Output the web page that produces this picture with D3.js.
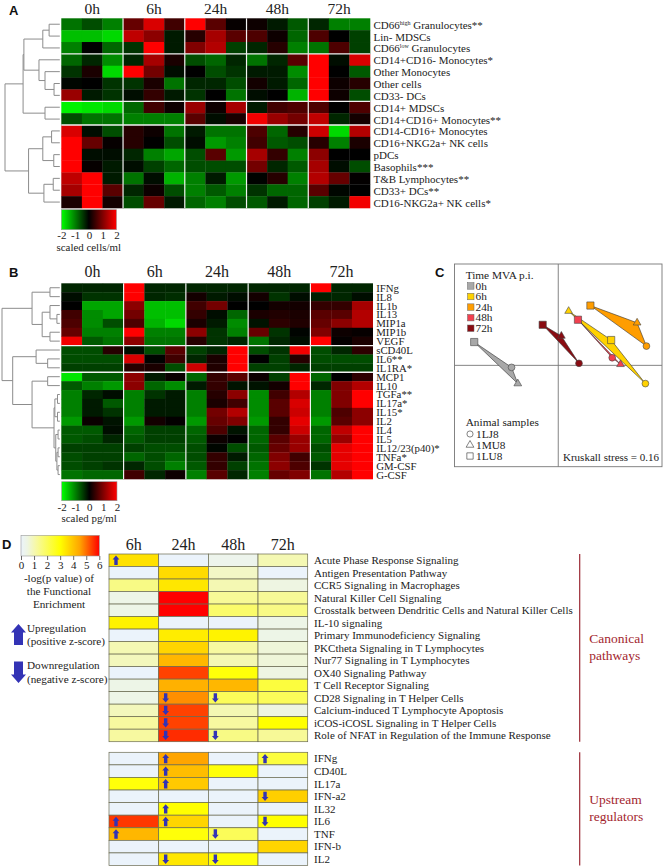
<!DOCTYPE html>
<html>
<head>
<meta charset="utf-8">
<script src="https://d3js.org/d3.v7.min.js"></script>
<style>
  html, body { margin: 0; padding: 0; background: #fff; }
  svg { display: block; }
  text { font-family: "Liberation Serif", serif; fill: #222; }
  .letter { font-family: "Liberation Sans", sans-serif; font-weight: bold; font-size: 13px; fill: #111; }
</style>
</head>
<body>
<div id="chart"></div>
<script>
// time points
var heatTimes = ["0h", "6h", "24h", "48h", "72h"];
var enrichTimes = ["6h", "24h", "48h", "72h"];

// panel A - scaled cells/ml, 3 animals per time point
var cellLabels = [
  ["CD66", "high", " Granulocytes**"], ["Lin- MDSCs"], ["CD66", "low", " Granulocytes"],
  ["CD14+CD16- Monocytes*"], ["Other Monocytes"], ["Other cells"], ["CD33- DCs"],
  ["CD14+ MDSCs"], ["CD14+CD16+ Monocytes**"],
  ["CD14-CD16+ Monocytes"], ["CD16+NKG2a+ NK cells"], ["pDCs"], ["Basophils***"],
  ["T&B Lymphocytes**"], ["CD33+ DCs**"], ["CD16-NKG2a+ NK cells*"]
];
var cellGroups = [3, 7, 9];
var cellValues = [
  [-0.9,-0.6,-1.0, 0.8,1.7,0.5, 2,0.7,0.05, 0.1,-0.2,-0.7, -0.3,-1,-1],
  [-1.5,-1.5,-1.7, 1.5,1.1,-0.2, 0.3,1.3,0.7, 0.6,0.1,-0.8, 0.6,0,-0.5],
  [-1,0,-0.8, -0.4,2,-0.2, 1,1.4,-0.5, -0.3,0.3,-1, -0.9,0.6,-0.5],
  [-0.8,-0.3,-1.1, -0.3,1.3,0.2, -0.6,-0.8,-0.3, -0.9,-0.3,0.7, 2,-0.1,1.7],
  [-0.4,0.2,-1.7, 2,0.9,-0.1, 0,-0.6,-0.4, -0.2,-0.2,-1.1, 2,0,-0.7],
  [-0.05,0,-0.4, -0.4,0.2,-0.9, -0.3,-0.3,-0.6, 0.15,-0.2,-0.8, 2,0.1,0.3],
  [1.2,-0.2,-0.4, -0.1,0.4,-0.2, -0.4,0,-0.9, -0.1,0,-1.4, 2,0.1,-0.6],
  [-1.9,-1.8,-1.7, -0.8,0.5,0.1, 1.2,0.1,1.3, -0.2,0.5,0.6, 0.6,0,0.6],
  [-0.6,-0.9,-0.9, -1,-1,-1, 0.7,-0.1,0.2, 1.9,1.2,0.9, 1.5,-0.3,0.15],
  [1.7,-0.1,-0.6, 0.3,0.1,-0.9, -0.2,-0.9,-0.9, 0.6,-0.8,0.3, 1.6,-1.7,1.4],
  [2,0.8,0.05, 0.3,0,-0.6, -0.1,-1.2,-1, 0.5,-0.7,-0.6, 0.3,-1,0.2],
  [2,-0.1,-0.1, -0.3,-1,-1.3, -0.6,0.7,-1.2, 1.3,0.4,-1, 1.1,0,0],
  [2,0.05,-0.2, -0.1,-0.5,-0.8, -0.6,-0.6,-0.6, 0.9,-0.3,-0.7, 1.3,-0.1,-0.6],
  [1.5,2,-0.2, -0.9,-0.1,-1.4, -1,-0.2,-1.2, -0.02,0.3,-1, 1.4,0.8,0.02],
  [1.3,2,0.7, -0.3,0.1,-0.6, -1,-0.7,-1, -0.4,-0.8,-0.8, 0.7,-0.05,0],
  [0.2,2,0.15, -0.6,0.8,-0.2, -0.8,-1,-0.6, -0.7,-0.2,-0.8, -0.5,-0.2,1.9]
];
// dendrogram: [height, child, child], a number is a row
var cellTree = [1,
  [0.67,
    [0.655,
      [0.31, [0.195, 0, 1], 2],
      [0.38, 3, [0.27, 4, [0.105, 5, 6]]]],
    [0.27, 7, 8]],
  [0.57,
    [0.31, [0.15, 9, 10], [0.11, 11, 12]],
    [0.29, [0.12, 13, 14], 15]]
];

// panel B - scaled pg/ml
var cytoLabels = ["IFNg","IL8","IL1b","IL13","MIP1a","MIP1b","VEGF","sCD40L","IL6**","IL1RA*",
  "MCP1","IL10","TGFa**","IL17a*","IL15*","IL2","IL4","IL5","IL12/23(p40)*","TNFa*","GM-CSF","G-CSF"];
var cytoGroups = [7, 10];
var cytoValues = [
  [-0.3,-0.3,-0.3, 2,-0.3,-0.3, -0.3,-0.3,-0.3, -0.3,-0.3,-0.3, 2,-0.3,-0.3],
  [-0.1,-0.4,-0.4, 2,-0.3,-0.35, 0.15,-0.2,-0.1, 0.15,-0.4,-0.1, -0.25,-0.3,-0.1],
  [0,-1.3,-1.3, 1.1,-1.5,-1.5, 0.5,0.9,0, 0,0.15,0.15, 0.4,0.4,1.3],
  [0.5,-1.1,-1.3, 0.9,-1.5,-1.5, 0.4,-0.1,-0.8, 0.2,0.25,0.2, 0.7,0.7,1.4],
  [0.6,-1.1,-0.6, 0.6,-1.4,-1.7, 0.2,-0.2,-1.1, -0.15,0.35,0.25, 0.8,1.1,1.4],
  [0.8,-1,-1, 2,-1,-1, 1.1,-0.4,-1, 0.8,-0.4,-0.03, 1,0.1,0.05],
  [1.9,-0.7,-0.9, 1.1,-0.9,-0.9, 0.3,-0.4,-0.3, -0.9,-0.3,-0.1, 2,0.03,0.2],
  [-0.6,-0.6,0.3, -0.1,-0.6,0.7, -0.5,-0.3,2, -0.6,-0.4,1.9, -0.6,-0.3,0.35],
  [-0.6,-0.6,-0.6, 1.7,-0.02,0.5, -0.3,0.2,2, 0,-0.5,0.3, -0.6,-0.6,-0.6],
  [-0.5,-0.5,-0.5, 0.3,0.2,-0.6, 1.6,0.25,2, -0.5,-0.5,-0.3, -0.5,-0.5,-0.5],
  [-1.8,-0.7,-0.7, 1.1,-0.2,0.08, -0.8,0.4,0.7, 0.1,-0.5,2, -0.8,0,0.35],
  [-0.7,-1,-1.2, 1.1,-0.8,-1.1, -0.2,0.4,-0.15, -0.15,0.15,2, -0.3,1,1.4],
  [-1,-0.3,-0.1, -1,-0.4,-0.2, -1,0.3,1.1, -1.1,0.5,1.4, -1,1,2],
  [-1,-0.2,-0.7, -1,-0.2,-0.2, -1,0.2,0.5, -1.1,0.7,1.7, -1,1,2],
  [-1,-0.2,-0.4, -1,-0.2,-0.2, -1,0.9,1.4, -1.1,0.7,1.6, -1,0.6,1.1],
  [-1.2,0.08,-0.15, -1.2,0.15,0.02, -1.2,0.8,1, -1.2,0.4,1.8, -1.2,0.7,1.1],
  [-0.7,-0.7,-0.1, -0.8,-0.5,-0.5, -0.8,0.6,-0.15, -0.8,0.4,1.6, -0.8,1.5,2],
  [-0.7,-0.6,-0.3, -0.7,-0.5,-0.5, -0.7,0.1,0, -0.8,0.7,1.2, -0.8,1.2,2],
  [-0.5,-0.5,-0.5, -0.5,-0.6,-0.6, -0.6,-0.05,-0.6, -0.7,0.8,1.2, -0.6,1.8,2],
  [-0.6,-0.5,-0.5, -0.8,-0.6,-0.8, -0.6,0.4,-0.2, -0.8,1,0.5, -0.7,1.8,2],
  [-0.6,-0.5,-0.4, -0.3,-0.6,-1, -0.7,0.4,-0.5, -0.9,1.1,0.6, -0.4,1.8,2],
  [-0.9,-0.8,-0.8, 0.5,-0.3,0.1, -1,0.7,-0.3, -1,0.8,1, -0.9,1.4,2]
];
var cytoTree = [1,
  [0.48,
    [0.17, 0, 1],
    [0.305, [0.17, 2, [0.05, 3, 4]], [0.17, 5, 6]]],
  [0.815,
    [0.41, 7, [0.21, 8, 9]],
    [0.48,
      [0.21, 10, 11],
      [0.1,
        [0.085, [0.04, 12, 13], [0.04, 14, 15]],
        [0.07, [0.03, 16, 17], [0.05, [0.03, 18, 19], [0.03, 20, 21]]]]]]
];

// panel C - MDS coordinates, one array per time point: circle, triangle, square
var mdsTimes = ["0h", "6h", "24h", "48h", "72h"];
var mdsColors = ["#a8a8a8", "#ffd200", "#ff9d00", "#f2404f", "#8a0c12"];
var mdsAnimals = ["1LJ8", "1MU8", "1LU8"];
var mds0h = [[-0.45,-0.02], [-0.39,-0.18], [-0.81,0.23]];
var mds6h = [[0.84,-0.18], [0.10,0.535], [0.51,0.25]];
var mds24h = [[0.85,0.19], [0.76,0.42], [0.31,0.59]];
var mds48h = [[0.52,0.075], [0.60,0.01], [0.19,0.45]];
var mds72h = [[0.20,0.02], [0.03,0.29], [-0.15,0.40]];

// panel D - -log(p value), columns 6h 24h 48h 72h
var pathwayLabels = ["Acute Phase Response Signaling","Antigen Presentation Pathway","CCR5 Signaling in Macrophages",
  "Natural Killer Cell Signaling","Crosstalk between Dendritic Cells and Natural Killer Cells","IL-10 signaling",
  "Primary Immunodeficiency Signaling","PKCtheta Signaling in T Lymphocytes","Nur77 Signaling in T Lymphocytes",
  "OX40 Signaling Pathway","T Cell Receptor Signaling","CD28 Signaling in T Helper Cells",
  "Calcium-induced T Lymphocyte Apoptosis","iCOS-iCOSL Signaling in T Helper Cells",
  "Role of NFAT in Regulation of the Immune Response"];
var pathwayValues = [
  [3.5,0,0.3,1], [0,3.6,0.8,0], [1.5,3.4,1,0.5], [0.4,6,1.3,1.3], [0.4,6,1.8,1.5],
  [3.2,0,0,0.4], [0,3.3,3.2,0.4], [1,3.7,1.2,0.6], [0.9,4.2,1,0.6], [0,5.4,2.9,0.5],
  [0.4,4.3,4.2,2.3], [0.4,4.7,2,2], [0.9,5.4,1,0.5], [1.2,5.4,1.2,3], [1.2,5.6,1.5,1.3]
];
// +1 upregulation, -1 downregulation, 0 nothing
var pathwayZ = [
  [1,0,0,0], [0,0,0,0], [0,0,0,0], [0,0,0,0], [0,0,0,0], [0,0,0,0], [0,0,0,0], [0,0,0,0],
  [0,0,0,0], [0,0,0,0], [0,0,0,0], [0,-1,-1,0], [0,-1,0,0], [0,-1,0,0], [0,-1,-1,0]
];
var regulatorLabels = ["IFNg","CD40L","IL17a","IFN-a2","IL32","IL6","TNF","IFN-b","IL2"];
var regulatorValues = [
  [0,4.5,0,2.3], [0,4.1,2.9,0], [2.9,3.9,0,0], [0,0,0,3.8], [0,3,0,0],
  [5.5,3.7,0,3], [4.2,2.9,2,0], [0,0,0,3.7], [0,3.4,2.9,0]
];
var regulatorZ = [
  [0,1,0,1], [0,1,0,0], [0,1,0,0], [0,0,0,-1], [0,1,0,0],
  [1,1,0,-1], [1,0,-1,0], [0,0,0,0], [0,-1,-1,0]
];
var heatTicks = [-2, -1, 0, 1, 2];
var enrichTicks = [0, 1, 2, 3, 4, 5, 6];

var svg = d3.select("#chart").append("svg")
  .attr("width", 664)
  .attr("height", 867);

var defs = svg.append("defs");

// colours
var heatColor = d3.scaleLinear().domain([-2, 0, 2]).range(["#00ff00", "#000000", "#ff0000"]);
var enrichColor = d3.scaleLinear()
  .domain([0, 0.5, 1.2, 3, 4.5, 6])
  .range(["#ebf3fb", "#eef5e2", "#f7f9a0", "#ffff00", "#ffa500", "#ff0000"]);

function letter(t, x, y) {
  svg.append("text").attr("class", "letter").attr("x", x).attr("y", y).text(t);
}

function gradientBar(id, color, x0, x1, y0, y1, ticks, axisY, tickSize) {
  var grad = defs.append("linearGradient").attr("id", id);
  var dom = color.domain();
  var lo = dom[0], hi = dom[dom.length - 1];
  dom.forEach(function(d, i) {
    grad.append("stop").attr("offset", (d - lo) / (hi - lo)).attr("stop-color", color.range()[i]);
  });
  svg.append("rect")
    .attr("x", x0).attr("y", y0)
    .attr("width", x1 - x0).attr("height", y1 - y0)
    .attr("fill", "url(#" + id + ")")
    .attr("stroke", "#999").attr("stroke-width", 0.6);
  var scale = d3.scaleLinear().domain([lo, hi]).range([x0, x1]);
  var axis = svg.append("g")
    .attr("transform", "translate(0," + axisY + ")")
    .call(d3.axisBottom(scale).tickValues(ticks).tickSize(tickSize).tickFormat(d3.format("d")));
  axis.select(".domain").remove();
  axis.selectAll("line").attr("stroke", "#666");
  axis.selectAll("text")
    .attr("font-size", 11).attr("font-family", "Liberation Serif")
    .attr("fill", "#222").text(function(d) { return d; });
  return axis;
}

// heatmap + dendrogram + labels for panels A and B
function drawHeatmap(cfg) {
  var nRows = cfg.values.length;
  var x = d3.scaleLinear().domain([0, 15]).range([cfg.x0, cfg.x1]);
  var y = d3.scaleLinear().domain([0, nRows]).range([cfg.y0, cfg.y1]);

  var g = svg.append("g");
  cfg.values.forEach(function(row, r) {
    g.selectAll(null)
      .data(row)
      .enter()
      .append("rect")
      .attr("x", function(d, i) { return x(i); })
      .attr("y", y(r))
      .attr("width", function(d, i) { return x(i + 1) - x(i) + 0.3; })
      .attr("height", y(r + 1) - y(r) + 0.3)
      .attr("fill", function(d) { return heatColor(d); });
  });

  // white separators between time points and clusters
  g.selectAll(".vsep")
    .data([3, 6, 9, 12])
    .enter()
    .append("line")
    .attr("x1", function(d) { return x(d); })
    .attr("x2", function(d) { return x(d); })
    .attr("y1", cfg.y0).attr("y2", cfg.y1 + 0.3)
    .attr("stroke", "#f2f2f2").attr("stroke-width", 1.2);
  g.selectAll(".hsep")
    .data(cfg.groups)
    .enter()
    .append("line")
    .attr("x1", cfg.x0).attr("x2", cfg.x1 + 0.3)
    .attr("y1", function(d) { return y(d); })
    .attr("y2", function(d) { return y(d); })
    .attr("stroke", "#f2f2f2").attr("stroke-width", 1.3);

  // column heads
  svg.selectAll(null)
    .data(heatTimes)
    .enter()
    .append("text")
    .attr("x", function(d, i) { return x(i * 3 + 1.5); })
    .attr("y", cfg.headY)
    .attr("text-anchor", "middle")
    .attr("font-size", cfg.headSize)
    .text(function(d) { return d; });

  // row labels
  var labels = svg.selectAll(null)
    .data(cfg.labels)
    .enter()
    .append("text")
    .attr("x", cfg.x1 + 3.5)
    .attr("y", function(d, i) { return y(i + 0.5) + cfg.labelDy; })
    .attr("font-size", cfg.labelSize);
  labels.each(function(d) {
    var t = d3.select(this);
    if (typeof d === "string") { t.text(d); return; }
    t.append("tspan").text(d[0]);
    if (d.length > 1) {
      t.append("tspan").attr("font-size", 6).attr("dy", -4).text(d[1]);
      t.append("tspan").attr("dy", 4).text(d[2]);
    }
  });

  // dendrogram
  var h = d3.scaleLinear().domain([0, 1]).range([cfg.x0 - 1.5, cfg.treeX]);
  var dg = svg.append("g").attr("fill", "none").attr("stroke", "#8c8c8c").attr("stroke-width", 1);
  function walk(node) {
    if (typeof node === "number") return { x: h(0), y: y(node + 0.5) };
    var a = walk(node[1]), b = walk(node[2]);
    var nx = h(node[0]);
    var path = d3.path();
    path.moveTo(a.x, a.y);
    path.lineTo(nx, a.y);
    path.lineTo(nx, b.y);
    path.lineTo(b.x, b.y);
    dg.append("path").attr("d", path.toString());
    return { x: nx, y: (a.y + b.y) / 2 };
  }
  walk(cfg.tree);
}

// Panel A
letter("A", 9, 15);
drawHeatmap({
  values: cellValues, labels: cellLabels, groups: cellGroups, tree: cellTree,
  x0: 61.3, x1: 370, y0: 18.3, y1: 208, treeX: 5, headY: 14, headSize: 15.5, labelDy: 4.5, labelSize: 11
});
gradientBar("gradA", heatColor, 61.3, 116.5, 209.7, 229.7, heatTicks, 228.5, 0);
svg.append("text").attr("x", 56.5).attr("y", 250.5).attr("font-size", 10.9).text("scaled cells/ml");

// Panel B
letter("B", 9, 277);
drawHeatmap({
  values: cytoValues, labels: cytoLabels, groups: cytoGroups, tree: cytoTree,
  x0: 61.3, x1: 372.7, y0: 283.3, y1: 479, treeX: 2, headY: 277, headSize: 16, labelDy: 4, labelSize: 10.8
});
gradientBar("gradB", heatColor, 61.7, 117, 481.7, 500.7, heatTicks, 500, 0);
svg.append("text").attr("x", 61.5).attr("y", 522).attr("font-size", 10.9).text("scaled pg/ml");

// Panel C
letter("C", 435, 277);
var mdsX = d3.scaleLinear().domain([-1, 1]).range([454.5, 662]);
var mdsY = d3.scaleLinear().domain([-1, 1]).range([466.7, 264]);
svg.append("rect")
  .attr("x", mdsX(-1)).attr("y", mdsY(1))
  .attr("width", mdsX(1) - mdsX(-1)).attr("height", mdsY(-1) - mdsY(1))
  .attr("fill", "#fff").attr("stroke", "#777").attr("stroke-width", 0.9);
svg.append("line").attr("x1", mdsX(0)).attr("x2", mdsX(0)).attr("y1", mdsY(1)).attr("y2", mdsY(-1))
  .attr("stroke", "#777").attr("stroke-width", 0.9);
svg.append("line").attr("x1", mdsX(-1)).attr("x2", mdsX(1)).attr("y1", mdsY(0)).attr("y2", mdsY(0))
  .attr("stroke", "#777").attr("stroke-width", 0.9);

var mdsSeries = [mds0h, mds6h, mds24h, mds48h, mds72h];
var shapes = [d3.symbolCircle, d3.symbolTriangle, d3.symbolSquare];
var shapeSizes = [36, 26, 52];
var lineGen = d3.line().x(function(d) { return mdsX(d[0]); }).y(function(d) { return mdsY(d[1]); }).curve(d3.curveLinearClosed);
mdsSeries.forEach(function(pts, t) {
  svg.append("path")
    .attr("d", lineGen(pts))
    .attr("fill", mdsColors[t])
    .attr("stroke", "#333").attr("stroke-width", 0.6);
});
mdsSeries.forEach(function(pts, t) {
  svg.selectAll(null)
    .data(pts)
    .enter()
    .append("path")
    .attr("transform", function(d) { return "translate(" + mdsX(d[0]) + "," + mdsY(d[1]) + ")"; })
    .attr("d", function(d, i) { return d3.symbol().type(shapes[i]).size(shapeSizes[i])(); })
    .attr("fill", mdsColors[t])
    .attr("stroke", "#444").attr("stroke-width", 0.6);
});

// C legends
svg.append("text").attr("x", 465.7).attr("y", 278.5).attr("font-size", 11.3).text("Time MVA p.i.");
var legendY = d3.scaleLinear().domain([0, 4]).range([285.7, 328]);
svg.selectAll(null)
  .data(mdsTimes)
  .enter()
  .append("rect")
  .attr("x", 467.5)
  .attr("y", function(d, i) { return legendY(i) - 3; })
  .attr("width", 6.5).attr("height", 6.5)
  .attr("fill", function(d, i) { return mdsColors[i]; })
  .attr("stroke", "#666").attr("stroke-width", 0.5);
svg.selectAll(null)
  .data(mdsTimes)
  .enter()
  .append("text")
  .attr("x", 475.5)
  .attr("y", function(d, i) { return legendY(i) + 4; })
  .attr("font-size", 11.3)
  .text(function(d) { return d; });
svg.append("text").attr("x", 465.7).attr("y", 426).attr("font-size", 11.3).text("Animal samples");
var animalY = d3.scaleLinear().domain([0, 2]).range([434, 456]);
svg.selectAll(null)
  .data(mdsAnimals)
  .enter()
  .append("path")
  .attr("transform", function(d, i) { return "translate(470," + animalY(i) + ")"; })
  .attr("d", function(d, i) { return d3.symbol().type(shapes[i]).size([30, 26, 40][i])(); })
  .attr("fill", "#fff").attr("stroke", "#333").attr("stroke-width", 0.6);
svg.selectAll(null)
  .data(mdsAnimals)
  .enter()
  .append("text")
  .attr("x", 476)
  .attr("y", function(d, i) { return animalY(i) + 4; })
  .attr("font-size", 11.3)
  .text(function(d) { return d; });
svg.append("text").attr("x", 563).attr("y", 461).attr("font-size", 11).text("Kruskall stress = 0.16");

// Panel D
letter("D", 2, 549);
var axisD = gradientBar("gradD", enrichColor, 21, 99.3, 535.3, 556, enrichTicks, 556, 4);
axisD.selectAll("text").attr("dy", "0.55em");
svg.selectAll(null)
  .data(["-log(p value) of", "the Functional", "Enrichment"])
  .enter()
  .append("text")
  .attr("x", 59)
  .attr("y", function(d, i) { return 581.5 + i * 13.2; })
  .attr("text-anchor", "middle")
  .attr("font-size", 11.2)
  .text(function(d) { return d; });

var arrowColor = "#3333b5";
function blockArrow(cx, top, bottom, halfHead, halfStem, headLen, dir) {
  // outline of an arrow pointing up (dir 1) or down (dir -1)
  var tip = dir > 0 ? top : bottom;
  var tail = dir > 0 ? bottom : top;
  var neck = tip + dir * headLen;
  var p = d3.path();
  p.moveTo(cx, tip);
  p.lineTo(cx + halfHead, neck);
  p.lineTo(cx + halfStem, neck);
  p.lineTo(cx + halfStem, tail);
  p.lineTo(cx - halfStem, tail);
  p.lineTo(cx - halfStem, neck);
  p.lineTo(cx - halfHead, neck);
  p.closePath();
  return p.toString();
}
svg.append("path").attr("d", blockArrow(18.5, 624, 645, 7.5, 4.5, 8.5, 1)).attr("fill", arrowColor);
svg.append("path").attr("d", blockArrow(18.5, 661.5, 683, 7.5, 4.5, 8.5, -1)).attr("fill", arrowColor);
svg.selectAll(null)
  .data([["Upregulation", 631.5], ["(positive z-score)", 644.8], ["Downregulation", 669], ["(negative z-score)", 682.5]])
  .enter()
  .append("text")
  .attr("x", 27)
  .attr("y", function(d) { return d[1]; })
  .attr("font-size", 11.2)
  .text(function(d) { return d[0]; });

var enrichX = d3.scaleLinear().domain([0, 4]).range([109, 307.7]);
function drawEnrich(values, zs, labels, y0, y1) {
  var y = d3.scaleLinear().domain([0, values.length]).range([y0, y1]);
  values.forEach(function(row, r) {
    svg.selectAll(null)
      .data(row)
      .enter()
      .append("rect")
      .attr("x", function(d, i) { return enrichX(i); })
      .attr("y", y(r))
      .attr("width", function(d, i) { return enrichX(i + 1) - enrichX(i); })
      .attr("height", y(r + 1) - y(r))
      .attr("fill", function(d) { return enrichColor(d); })
      .attr("stroke", "#6a6a50").attr("stroke-width", 0.7);
  });
  zs.forEach(function(row, r) {
    svg.selectAll(null)
      .data(row.map(function(z, i) { return { z: z, i: i }; }).filter(function(d) { return d.z !== 0; }))
      .enter()
      .append("path")
      .attr("d", function(d) {
        return blockArrow(enrichX(d.i) + 7, y(r) + 1.6, y(r + 1) - 1.6, 3.4, 1.7, 4, d.z);
      })
      .attr("fill", arrowColor);
  });
  svg.selectAll(null)
    .data(labels)
    .enter()
    .append("text")
    .attr("x", 314)
    .attr("y", function(d, i) { return y(i + 0.5) + 3.8; })
    .attr("font-size", 11)
    .text(function(d) { return d; });
  svg.append("line")
    .attr("x1", 579.7).attr("x2", 579.7)
    .attr("y1", y0).attr("y2", y1)
    .attr("stroke", "#9b2a35").attr("stroke-width", 1.2);
}
svg.selectAll(null)
  .data(enrichTimes)
  .enter()
  .append("text")
  .attr("x", function(d, i) { return enrichX(i + 0.5); })
  .attr("y", 549.5)
  .attr("text-anchor", "middle")
  .attr("font-size", 16)
  .text(function(d) { return d; });
drawEnrich(pathwayValues, pathwayZ, pathwayLabels, 554, 741.7);
drawEnrich(regulatorValues, regulatorZ, regulatorLabels, 752.3, 865.5);

svg.selectAll(null)
  .data([["Canonical", 643], ["pathways", 659.5], ["Upstream", 804], ["regulators", 820.7]])
  .enter()
  .append("text")
  .attr("x", 589.3)
  .attr("y", function(d) { return d[1]; })
  .attr("font-size", 13.5)
  .style("fill", "#a3262e")
  .text(function(d) { return d[0]; });
</script>
</body>
</html>
